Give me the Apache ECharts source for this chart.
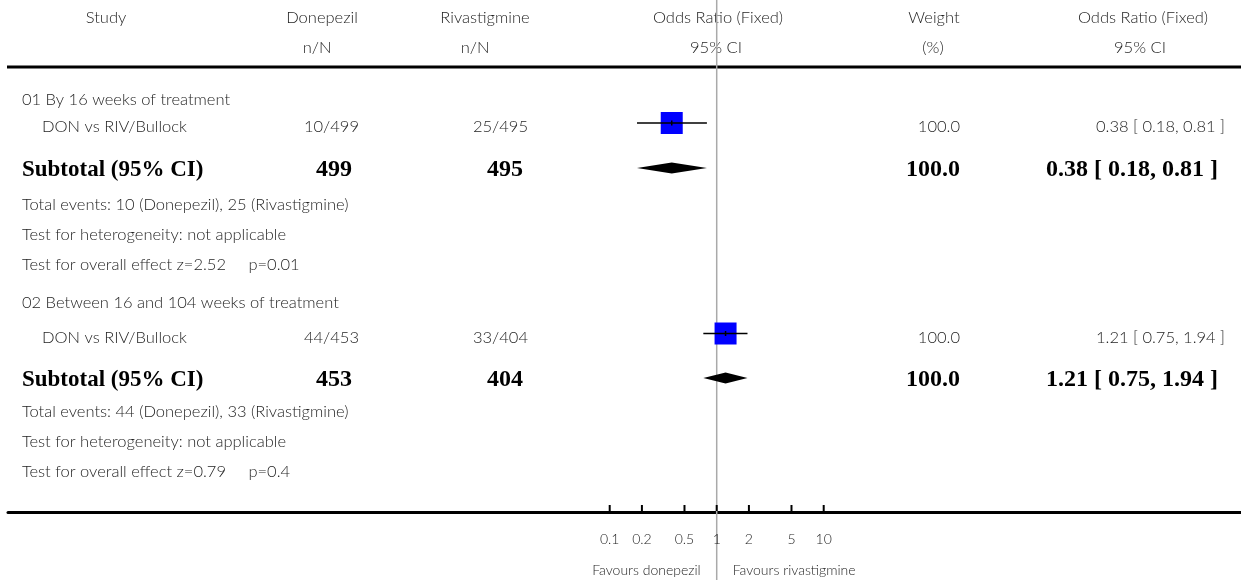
<!DOCTYPE html>
<html><head><meta charset="utf-8">
<script src="https://cdn.jsdelivr.net/npm/echarts@6/dist/echarts.min.js"></script>
<style>html,body{margin:0;padding:0;background:#fff}#c{width:1241px;height:580px}</style>
</head><body><div id="c"></div>
<script>
// ---------- data ----------
const groupTitles = ['01 By 16 weeks of treatment', '02 Between 16 and 104 weeks of treatment'];
const studyNames = ['DON vs RIV/Bullock', 'DON vs RIV/Bullock'];
const donepezilEvents = [10, 44];
const donepezilTotals = [499, 453];
const rivastigmineEvents = [25, 33];
const rivastigmineTotals = [495, 404];
const studyOR = [0.38, 1.21];
const studyLow = [0.18, 0.75];
const studyHigh = [0.81, 1.94];
const studyWeight = [100.0, 100.0];
const subtotalOR = [0.38, 1.21];
const subtotalLow = [0.18, 0.75];
const subtotalHigh = [0.81, 1.94];
const subtotalWeight = [100.0, 100.0];
const heterogeneityText = ['not applicable', 'not applicable'];
const zValues = ['2.52', '0.79'];
const pValues = ['0.01', '0.4'];
const tickValues = [0.1, 0.2, 0.5, 1, 2, 5, 10];
const headerRow1 = ['Study', 'Donepezil', 'Rivastigmine', 'Odds Ratio (Fixed)', 'Weight', 'Odds Ratio (Fixed)'];
const headerRow2 = ['', 'n/N', 'n/N', '95% CI', '(%)', '95% CI'];
const favourLabels = ['Favours donepezil', 'Favours rivastigmine'];
const treatmentNames = ['Donepezil', 'Rivastigmine'];

// ---------- layout ----------
const W = 1241, H = 580;
const AXIS_Y = 512;
const ONE_X = 716.7, DECADE = 107;
const GRID_LEFT = 8;
const xMin = Math.pow(10, (GRID_LEFT - ONE_X) / DECADE);
const xMax = Math.pow(10, (W - ONE_X) / DECADE);
const rows = [
  {title: 100, study: 123, sub: 168, te: 205, het: 235, ov: 265},
  {title: 303, study: 333.5, sub: 378, te: 412, het: 442, ov: 472}
];
const REG = '300 16.5px Lato';
const SMALL = '300 14px Lato';
const BOLD_L = 'bold 23px "Liberation Serif"';
const BOLD_N = 'bold 24px "Liberation Serif"';
const TXT = '#1e1e1e';

function T(x, y, text, align, font, color) {
  return {
    type: 'text', x: x, y: y, silent: true,
    style: {text: text, font: font || REG, fill: color || TXT,
      align: align || 'left', verticalAlign: 'middle',
      textAlign: align || 'left', textVerticalAlign: 'middle'}
  };
}

const fmt2 = v => v.toFixed(2);
const orText = (e, l, h) => fmt2(e) + ' [ ' + fmt2(l) + ', ' + fmt2(h) + ' ]';

const graphics = [];
// header
const h1x = [106, 322, 485, 718, 934, 1143];
const h2x = [106, 317, 475, 716, 933, 1140];
headerRow1.forEach((t, i) => graphics.push(T(h1x[i], 18, t, 'center')));
headerRow2.forEach((t, i) => { if (t) graphics.push(T(h2x[i], 48, t, 'center')); });
graphics.push({type: 'line', silent: true, shape: {x1: 7, y1: 67, x2: W, y2: 67}, style: {stroke: '#000', lineWidth: 3}});

rows.forEach((r, g) => {
  const sy = r.study + 4, by = r.sub + 2;
  graphics.push(T(22, r.title, groupTitles[g], 'left'));
  graphics.push(T(42, sy, studyNames[g], 'left'));
  graphics.push(T(359, sy, donepezilEvents[g] + '/' + donepezilTotals[g], 'right'));
  graphics.push(T(528, sy, rivastigmineEvents[g] + '/' + rivastigmineTotals[g], 'right'));
  graphics.push(T(960, sy, studyWeight[g].toFixed(1), 'right'));
  graphics.push(T(1225, sy, orText(studyOR[g], studyLow[g], studyHigh[g]), 'right'));
  graphics.push(T(22, by, 'Subtotal (95% CI)', 'left', BOLD_L, '#000'));
  graphics.push(T(352, by, String(donepezilTotals[g]), 'right', BOLD_N, '#000'));
  graphics.push(T(523, by, String(rivastigmineTotals[g]), 'right', BOLD_N, '#000'));
  graphics.push(T(960, by, subtotalWeight[g].toFixed(1), 'right', BOLD_N, '#000'));
  graphics.push(T(1218, by, orText(subtotalOR[g], subtotalLow[g], subtotalHigh[g]), 'right', BOLD_N, '#000'));
  graphics.push(T(22, r.te, 'Total events: ' + donepezilEvents[g] + ' (' + treatmentNames[0] + '), ' +
    rivastigmineEvents[g] + ' (' + treatmentNames[1] + ')', 'left'));
  graphics.push(T(22, r.het, 'Test for heterogeneity: ' + heterogeneityText[g], 'left'));
  graphics.push(T(22, r.ov, 'Test for overall effect z=' + zValues[g] + '     p=' + pValues[g], 'left'));
});

const chart = echarts.init(document.getElementById('c'), null, {renderer: 'canvas'});
chart.setOption({
  animation: false,
  backgroundColor: '#fff',
  grid: {left: GRID_LEFT, right: 0, top: 0, bottom: H - AXIS_Y, containLabel: false},
  xAxis: {
    type: 'log', logBase: 10, min: xMin, max: xMax,
    axisLine: {show: true, onZero: false, lineStyle: {color: '#000', width: 3}},
    axisTick: {show: false}, axisLabel: {show: false}, splitLine: {show: false}
  },
  yAxis: {type: 'value', min: 0, max: AXIS_Y, inverse: true, show: false},
  graphic: graphics,
  series: [
    { // reference line at OR = 1
      type: 'custom', z: 1, clip: false, silent: true,
      data: [[1, 0]],
      renderItem: (p, api) => {
        const a = api.coord([api.value(0), 0]);
        return {type: 'line', shape: {x1: a[0], y1: 0, x2: a[0], y2: H},
          style: {stroke: '#a9a9a9', lineWidth: 1.5}};
      }
    },
    { // axis ticks & labels
      type: 'custom', z: 3, clip: false, silent: true,
      data: tickValues.map(v => [v, AXIS_Y]),
      renderItem: (p, api) => {
        const v = api.value(0);
        const a = api.coord([v, api.value(1)]);
        return {type: 'group', children: [
          {type: 'line', shape: {x1: a[0], y1: a[1] - 1, x2: a[0], y2: a[1] - 7}, style: {stroke: '#000', lineWidth: 2}},
          {type: 'text', x: a[0], y: a[1] + 27, style: {text: String(v), font: SMALL, fill: TXT,
            align: 'center', verticalAlign: 'middle', textAlign: 'center', textVerticalAlign: 'middle'}}
        ]};
      }
    },
    { // favours labels
      type: 'custom', z: 3, clip: false, silent: true,
      data: [[1, AXIS_Y]],
      renderItem: (p, api) => {
        const a = api.coord([api.value(0), api.value(1)]);
        return {type: 'group', children: [
          {type: 'text', x: a[0] - 16, y: a[1] + 58, style: {text: favourLabels[0], font: SMALL, fill: TXT,
            align: 'right', verticalAlign: 'middle', textAlign: 'right', textVerticalAlign: 'middle'}},
          {type: 'text', x: a[0] + 16, y: a[1] + 58, style: {text: favourLabels[1], font: SMALL, fill: TXT,
            align: 'left', verticalAlign: 'middle', textAlign: 'left', textVerticalAlign: 'middle'}}
        ]};
      }
    },
    { // individual studies
      type: 'custom', z: 4, clip: false, silent: true,
      data: studyOR.map((v, i) => [v, studyLow[i], studyHigh[i], rows[i].study, studyWeight[i]]),
      encode: {x: [0, 1, 2], y: 3},
      renderItem: (p, api) => {
        const y = api.value(3);
        const e = api.coord([api.value(0), y]);
        const l = api.coord([api.value(1), y]);
        const h = api.coord([api.value(2), y]);
        const s = 22 * Math.sqrt(api.value(4) / 100);
        return {type: 'group', children: [
          {type: 'rect', shape: {x: e[0] - s / 2, y: e[1] - s / 2, width: s, height: s}, style: {fill: '#0000ff'}},
          {type: 'line', shape: {x1: l[0], y1: l[1], x2: h[0], y2: h[1]}, style: {stroke: '#000', lineWidth: 1.5}},
          {type: 'line', shape: {x1: e[0], y1: e[1] - 2.5, x2: e[0], y2: e[1] + 2.5}, style: {stroke: '#000', lineWidth: 1.5}}
        ]};
      }
    },
    { // subtotal diamonds
      type: 'custom', z: 4, clip: false, silent: true,
      data: subtotalOR.map((v, i) => [v, subtotalLow[i], subtotalHigh[i], rows[i].sub]),
      encode: {x: [0, 1, 2], y: 3},
      renderItem: (p, api) => {
        const y = api.value(3);
        const e = api.coord([api.value(0), y]);
        const l = api.coord([api.value(1), y]);
        const h = api.coord([api.value(2), y]);
        return {type: 'polygon', shape: {points: [[l[0], y], [e[0], y - 5.5], [h[0], y], [e[0], y + 5.5]]},
          style: {fill: '#000'}};
      }
    }
  ]
});
</script>
</body></html>
